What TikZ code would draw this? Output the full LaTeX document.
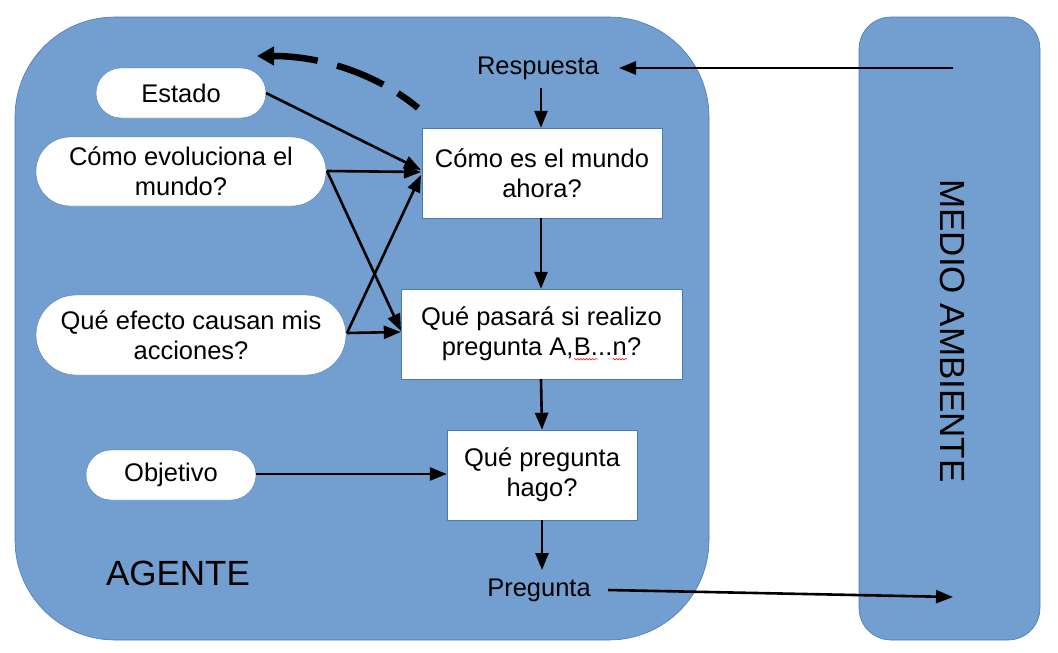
\documentclass[tikz,border=0pt]{standalone}
\usepackage{fontspec}
\setmainfont{Liberation Sans}
\usetikzlibrary{arrows.meta,decorations.pathmorphing}
\definecolor{panel}{HTML}{729FCF}
\definecolor{panelline}{HTML}{4A7AB5}
\tikzset{
  panelbox/.style={fill=panel,draw=panelline,line width=0.6pt},
  pill/.style={fill=white,draw=panelline,line width=0.4pt},
  stepbox/.style={fill=white,draw=panelline,line width=0.4pt},
  txt/.style={font=\fontsize{25.5}{30}\selectfont,align=center},
  conn/.style={line width=2.6pt,-{Triangle[length=17pt,width=13pt]}},
  squiggle/.style={red,line width=0.5pt,decorate,decoration={snake,amplitude=0.8pt,segment length=3pt}},
}
\newcommand\spellmark[1]{\tikz[baseline=(w.base)]{\node[inner sep=0pt,outer sep=0pt,minimum width=0pt,minimum height=0pt,draw=none,fill=none](w){#1};\draw[squiggle] ([yshift=-3.5pt]w.south west) -- ([yshift=-3.5pt]w.south east);}}
\begin{document}
\begin{tikzpicture}[x=1pt,y=-1pt]
\useasboundingbox (0,0) rectangle (1058,653);
% panels
\path[panelbox,rounded corners=100pt] (15,17) rectangle (709,640);
\path[panelbox,rounded corners=32pt] (859,17) rectangle (1040,640);
\node[rotate=-90,font=\fontsize{35}{40}\selectfont] (medio) at (953,331) {MEDIO AMBIENTE};
\node[font=\fontsize{35}{40}\selectfont] (agente) at (178,573) {AGENTE};
% pills
\path[pill,rounded corners=25pt] (96,68) rectangle (266,118);
\node[txt] (estado) at (181,93) {Estado};
\coordinate (estadoE) at (266,93);
\path[pill,rounded corners=34pt] (36,137) rectangle (326,206);
\node[txt] (evol) at (181,171) {Cómo evoluciona el\\mundo?};
\coordinate (evolE) at (327,171);
\path[pill,rounded corners=40pt] (36,295) rectangle (346,375);
\node[txt] (efecto) at (191,335) {Qué efecto causan mis\\acciones?};
\coordinate (efectoE) at (347,333);
\path[pill,rounded corners=25pt] (86,450) rectangle (256,500);
\node[txt] (objetivo) at (171,475) {Objetivo};
\coordinate (objetivoE) at (256,474);
% boxes
\node[stepbox,txt,minimum width=240pt,minimum height=90pt] (b1) at (542,173) {Cómo es el mundo\\ahora?};
\node[stepbox,txt,minimum width=281pt,minimum height=90pt] (b2) at (541.5,334) {Qué pasará si realizo\\pregunta A,\spellmark{B.}..\spellmark{n}?};
\node[stepbox,txt,minimum width=190pt,minimum height=90pt] (b3) at (542,475) {Qué pregunta\\hago?};
% labels
\node[txt] (resp) at (538,68) {Respuesta};
\node[txt] (preg) at (539,590) {Pregunta};
\coordinate (envIn) at (953,68);
\coordinate (envOut) at (953,597);
\coordinate (prout) at (608,590);
\coordinate (respin) at (619,68);
% connectors
\draw[conn] (envIn) -- (respin);
\draw[conn] (541,88) -- (b1.north -| 541,0);
\draw[conn] (b1.south -| 541,0) -- (b2.north -| 541,0);
\draw[conn] (b2.south -| 541,0) -- (b3.north -| 542,0);
\draw[conn] (b3.south -| 542,0) -- (542,570);
\draw[conn] (prout) -- (envOut);
\draw[conn] (estadoE) -- (421,170);
\draw[conn] (evolE) -- (421,172);
\draw[conn] (evolE) -- (401,331);
\draw[conn] (efectoE) -- (421,175);
\draw[conn] (efectoE) -- (b2.west |- 0,332);
\draw[conn] (objetivoE) -- (b3.west |- 0,474);
% dashed feedback
\draw[line width=6.5pt,-{Triangle[length=17pt,width=18pt]},dash pattern=on 25pt off 17pt on 50pt off 20pt on 80pt off 0pt] (418,108) .. controls (385,80) and (330,56) .. (257,56);
\end{tikzpicture}
\end{document}
